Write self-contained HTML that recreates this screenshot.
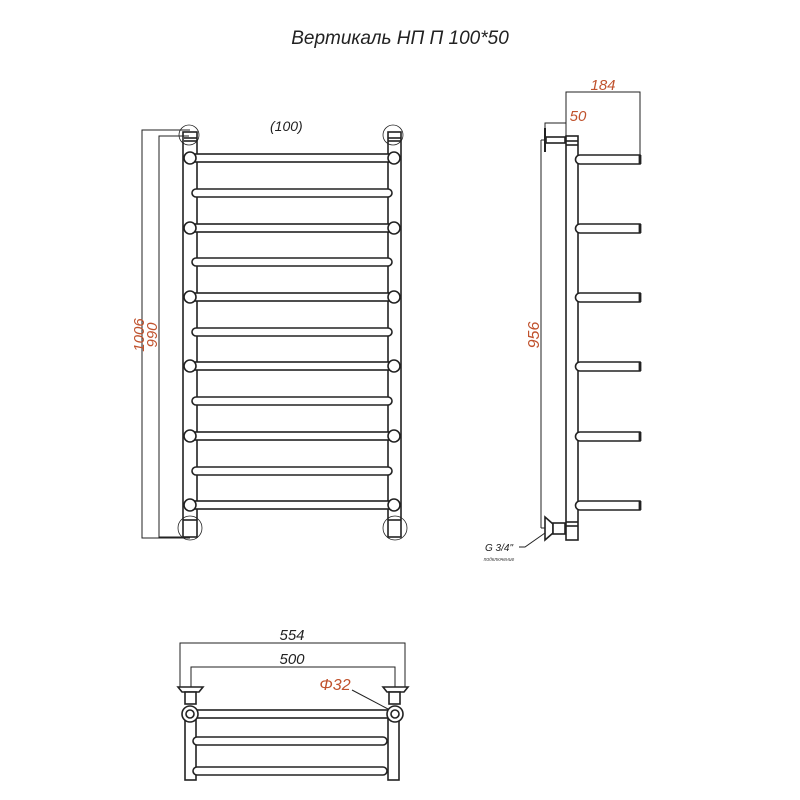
<!DOCTYPE html>
<html><head><meta charset="utf-8"><style>html,body{margin:0;padding:0;background:#fff}svg{display:block}</style></head><body>
<svg width="800" height="800" viewBox="0 0 800 800" xmlns="http://www.w3.org/2000/svg" font-family="Liberation Sans, DejaVu Sans, sans-serif">
<rect width="800" height="800" fill="#fff"/>
<text x="400" y="44" font-size="19" font-style="italic" text-anchor="middle" fill="#222">Вертикаль НП П 100*50</text>
<g stroke="#222" fill="none" stroke-width="1.6">
<!-- FRONT VIEW -->
<rect x="183" y="132" width="14" height="405" fill="#fff"/>
<rect x="388" y="132" width="13" height="405" fill="#fff"/>
<circle cx="189" cy="135" r="10" stroke-width="0.8"/>
<circle cx="393" cy="135" r="10" stroke-width="0.8"/>
<line x1="184" y1="138" x2="197" y2="138"/><line x1="184" y1="141" x2="197" y2="141"/>
<line x1="388" y1="138" x2="401" y2="138"/><line x1="388" y1="141" x2="401" y2="141"/>
<circle cx="190" cy="528" r="12" stroke-width="0.8"/>
<circle cx="395" cy="528" r="12" stroke-width="0.8"/>
<line x1="183" y1="520" x2="197" y2="520"/><line x1="388" y1="520" x2="401" y2="520"/>
<g fill="#fff">
<rect x="190" y="154" width="204" height="8"/><circle cx="190" cy="158" r="6"/><circle cx="394" cy="158" r="6"/>
<rect x="192" y="189" width="200" height="8" rx="4"/>
<rect x="190" y="224" width="204" height="8"/><circle cx="190" cy="228" r="6"/><circle cx="394" cy="228" r="6"/>
<rect x="192" y="258" width="200" height="8" rx="4"/>
<rect x="190" y="293" width="204" height="8"/><circle cx="190" cy="297" r="6"/><circle cx="394" cy="297" r="6"/>
<rect x="192" y="328" width="200" height="8" rx="4"/>
<rect x="190" y="362" width="204" height="8"/><circle cx="190" cy="366" r="6"/><circle cx="394" cy="366" r="6"/>
<rect x="192" y="397" width="200" height="8" rx="4"/>
<rect x="190" y="432" width="204" height="8"/><circle cx="190" cy="436" r="6"/><circle cx="394" cy="436" r="6"/>
<rect x="192" y="467" width="200" height="8" rx="4"/>
<rect x="190" y="501" width="204" height="8"/><circle cx="190" cy="505" r="6"/><circle cx="394" cy="505" r="6"/>
</g>
<g stroke-width="1">
<polyline points="190,130 142,130 142,538 190,538"/>
<polyline points="189,136 159,136 159,537 190,537"/>
</g>
<!-- SIDE VIEW -->
<rect x="566" y="136" width="12" height="404" fill="#fff"/>
<line x1="566" y1="141" x2="578" y2="141"/><line x1="566" y1="145" x2="578" y2="145"/>
<line x1="566" y1="522" x2="578" y2="522"/><line x1="566" y1="526" x2="578" y2="526"/>
<g fill="#fff">
<path d="M580,155 H640 V164 H580 A4.5,4.5 0 0 1 580,155 Z"/>
<path d="M580,224 H640 V233 H580 A4.5,4.5 0 0 1 580,224 Z"/>
<path d="M580,293 H640 V302 H580 A4.5,4.5 0 0 1 580,293 Z"/>
<path d="M580,362 H640 V371 H580 A4.5,4.5 0 0 1 580,362 Z"/>
<path d="M580,432 H640 V441 H580 A4.5,4.5 0 0 1 580,432 Z"/>
<path d="M580,501 H640 V510 H580 A4.5,4.5 0 0 1 580,501 Z"/>
</g>
<g stroke-width="2.8">
<line x1="640" y1="155" x2="640" y2="164"/>
<line x1="640" y1="224" x2="640" y2="233"/>
<line x1="640" y1="293" x2="640" y2="302"/>
<line x1="640" y1="362" x2="640" y2="371"/>
<line x1="640" y1="432" x2="640" y2="441"/>
<line x1="640" y1="501" x2="640" y2="510"/>
</g>
<line x1="545" y1="128" x2="545" y2="152" stroke-width="2"/>
<rect x="546" y="137" width="19" height="6"/>
<path d="M545,517 L553,524 L553,533 L545,540 Z" fill="#fff"/>
<rect x="553" y="523" width="12" height="11" fill="#fff"/>
<g stroke-width="1">
<polyline points="566,136 566,92 640,92 640,159"/>
<polyline points="545,128 545,123 566,123"/>
<line x1="541" y1="140" x2="541" y2="528"/>
<line x1="541" y1="140" x2="545" y2="140"/>
<line x1="541" y1="528" x2="545" y2="528"/>
<polyline points="519,547 525,547 545,533"/>
</g>
<!-- TOP VIEW -->
<g stroke-width="1">
<polyline points="180,690 180,643 405,643 405,690"/>
<polyline points="191,700 191,667 395,667 395,700"/>
<line x1="352" y1="690" x2="388" y2="709"/>
</g>
<rect x="185" y="714" width="11" height="66" fill="#fff"/>
<rect x="388" y="714" width="11" height="66" fill="#fff"/>
<g fill="#fff">
<rect x="192" y="710" width="196" height="8"/>
<rect x="193" y="737" width="194" height="8" rx="4"/>
<rect x="193" y="767" width="194" height="8" rx="4"/>
</g>
<path d="M178,687 H203 L199,692 H182 Z" fill="#fff"/>
<path d="M383,687 H408 L404,692 H387 Z" fill="#fff"/>
<rect x="185" y="692" width="11" height="12" fill="#fff"/>
<rect x="389" y="692" width="11" height="12" fill="#fff"/>
<circle cx="190" cy="714" r="8" fill="#fff"/><circle cx="190" cy="714" r="4"/>
<circle cx="395" cy="714" r="8" fill="#fff"/><circle cx="395" cy="714" r="4"/>
</g>
<g fill="#c0522d" font-style="italic" font-size="15">
<text x="270" y="131" fill="#222" font-size="14">(100)</text>
<text transform="translate(144,335) rotate(-90)" text-anchor="middle">1006</text>
<text transform="translate(157,335) rotate(-90)" text-anchor="middle">990</text>
<text x="603" y="90" text-anchor="middle">184</text>
<text x="578" y="121" text-anchor="middle">50</text>
<text transform="translate(539,335) rotate(-90)" text-anchor="middle" font-size="16">956</text>
<text x="292" y="640" text-anchor="middle" fill="#222">554</text>
<text x="292" y="664" text-anchor="middle" fill="#222">500</text>
<text x="335" y="690" text-anchor="middle" font-size="16">Φ32</text>
</g>
<text x="499" y="551" font-size="10" font-style="italic" text-anchor="middle" fill="#222">G 3/4"</text>
<text x="499" y="561" font-size="5" font-style="italic" text-anchor="middle" fill="#444">подключение</text>
</svg>
</body></html>
